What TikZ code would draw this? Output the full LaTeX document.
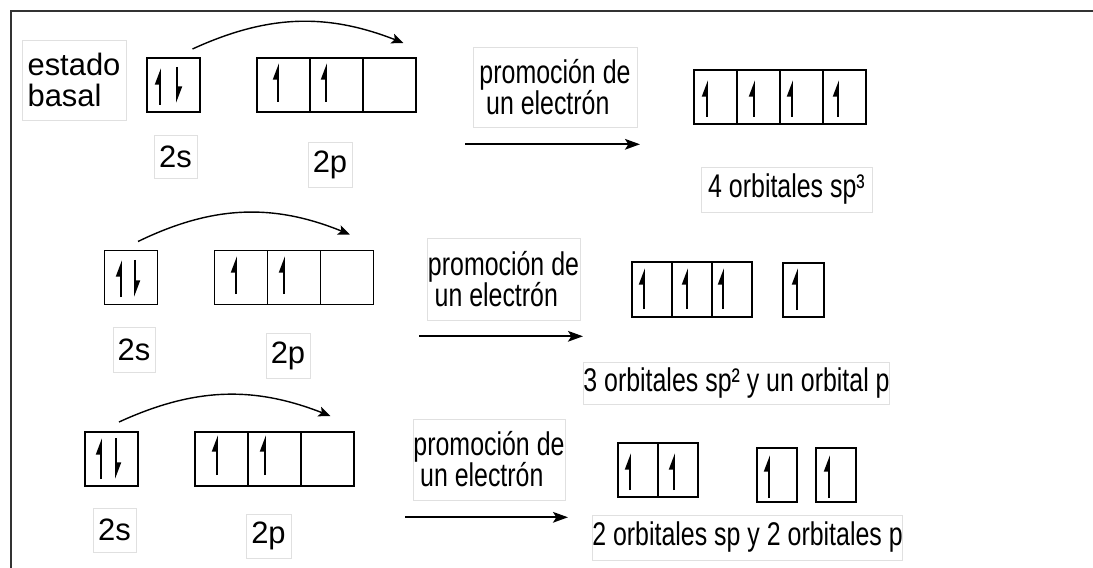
\documentclass[tikz,border=0pt]{standalone}
\usepackage{fontspec}
\setmainfont{Liberation Sans}
\newfontfamily\narrowsf{Liberation Sans}[FakeStretch=0.76]
\usetikzlibrary{arrows.meta, positioning}

\begin{document}
\begin{tikzpicture}[
  x=0.03cm, y=-0.03cm,
  every node/.style={font=\fontsize{26.4}{26.4}\selectfont},
  cell/.style={rectangle, draw, line width=1.5pt, inner sep=0pt, outer sep=0pt,
               minimum width=1.59cm, minimum height=1.62cm},
  lbl/.style ={rectangle, draw=black!12, line width=0.5pt, inner sep=0pt},
  nlbl/.style={lbl, font=\narrowsf\fontsize{28}{26.5}\selectfont},
  spin/.style={-{Stealth[left, length=0.42cm, width=0.3cm, inset=0pt]}, line width=1.6pt},
  jump/.style={-{Stealth[length=0.36cm, width=0.3cm, inset=0.08cm]}, line width=1.2pt},
  arr/.style ={-{Stealth[length=0.45cm, width=0.32cm, inset=0.1cm]}, line width=1.6pt},
]
\useasboundingbox (0,0) rectangle (1093,568);
\draw[line width=1.8pt, black!80] (11,568) -- (11,11) -- (1093,11);

% estado basal -> sp3
\node[lbl, minimum width=3.12cm, minimum height=2.4cm, align=left] (basal) at (74,80) {estado\\basal};
\node[cell] (s1) at (173.5,85) {};
\node[cell] (p1a) at (283.5,85) {};
\node[cell, right=0pt of p1a] (p1b) {};
\node[cell, right=0pt of p1b] (p1c) {};
\node[lbl, minimum width=1.29cm, minimum height=1.29cm] (s1lbl) at (175.5,156.5) {2s};
\node[lbl, minimum width=1.32cm, minimum height=1.35cm] (p1lbl) at (330,164.5) {2p};
\node[nlbl, minimum width=4.92cm, minimum height=2.4cm, align=left] (prom1) at (555,87)
     {promoción de\\\hspace*{0.2cm}un electrón};
\node[cell, minimum width=1.29cm] (h1a) at (715.5,97) {};
\node[cell, minimum width=1.29cm, right=0pt of h1a] (h1b) {};
\node[cell, minimum width=1.29cm, right=0pt of h1b] (h1c) {};
\node[cell, minimum width=1.29cm, right=0pt of h1c] (h1d) {};
\node[nlbl, minimum width=5.13cm, minimum height=1.35cm] (h1lbl) at (786.5,189.5) {4 orbitales sp³};

\coordinate (j1s) at ([shift={(19,-9)}]s1.north);
\coordinate (j1e) at ([shift={(14,-15)}]p1c.north);
\draw[jump] (j1s) to[bend left=23] (j1e);
\coordinate (a1s) at ([shift={(-90,17)}]prom1.south);
\coordinate (a1e) at ([shift={(85,17)}]prom1.south);
\draw[arr] (a1s) -- (a1e);

\draw[spin] (160,105) -- (160,68);
\draw[spin] (177,67) -- (177,103);
\draw[spin] (278,102) -- (278,63);
\draw[spin] (326,102) -- (326,63);
\draw[spin] (707,117) -- (707,80);
\draw[spin] (754,117) -- (754,80);
\draw[spin] (792,117) -- (792,80);
\draw[spin] (838,117) -- (838,80);

% sp2
\node[cell] (s2) at (131,277.5) {};
\node[cell] (p2a) at (241,277.5) {};
\node[cell, right=0pt of p2a] (p2b) {};
\node[cell, right=0pt of p2b] (p2c) {};
\node[lbl, minimum width=1.26cm, minimum height=1.35cm] (s2lbl) at (134,349.5) {2s};
\node[lbl, minimum width=1.32cm, minimum height=1.35cm] (p2lbl) at (288,355.5) {2p};
\node[nlbl, minimum width=4.59cm, minimum height=2.46cm, align=left] (prom2) at (503.5,279)
     {promoción de\\\hspace*{0.2cm}un electrón};
\node[cell, minimum width=1.2cm, minimum height=1.65cm] (h2a) at (652,289.5) {};
\node[cell, minimum width=1.2cm, minimum height=1.65cm, right=0pt of h2a] (h2b) {};
\node[cell, minimum width=1.2cm, minimum height=1.65cm, right=0pt of h2b] (h2c) {};
\node[cell, minimum width=1.23cm] (h2p) at (803.5,290) {};
\node[nlbl, minimum width=9.09cm, minimum height=1.26cm] (h2lbl) at (736.5,383) {3 orbitales sp² y un orbital p};

\coordinate (j2s) at ([shift={(7,-9)}]s2.north);
\coordinate (j2e) at ([shift={(3,-16)}]p2c.north);
\draw[jump] (j2s) to[bend left=24] (j2e);
\coordinate (a2s) at ([shift={(-84.5,16)}]prom2.south);
\coordinate (a2e) at ([shift={(79.5,16)}]prom2.south);
\draw[arr] (a2s) -- (a2e);

\draw[spin] (121,297) -- (121,260);
\draw[spin] (135,260) -- (135,297);
\draw[spin] (236,294) -- (236,256);
\draw[spin] (284,294) -- (284,256);
\draw[spin] (644,309) -- (644,268);
\draw[spin] (687,309) -- (687,268);
\draw[spin] (723,309) -- (723,268);
\draw[spin] (797,310) -- (797,268);

% sp
\node[cell] (s3) at (111.5,459) {};
\node[cell] (p3a) at (221.5,459) {};
\node[cell, right=0pt of p3a] (p3b) {};
\node[cell, right=0pt of p3b] (p3c) {};
\node[lbl, minimum width=1.29cm, minimum height=1.32cm] (s3lbl) at (114.5,530) {2s};
\node[lbl, minimum width=1.35cm, minimum height=1.32cm] (p3lbl) at (268.5,536) {2p};
\node[nlbl, minimum width=4.56cm, minimum height=2.43cm, align=left] (prom3) at (489,459.5)
     {promoción de\\\hspace*{0.2cm}un electrón};
\node[cell, minimum width=1.2cm] (h3a) at (638,470) {};
\node[cell, minimum width=1.2cm, right=0pt of h3a] (h3b) {};
\node[cell, minimum width=1.2cm] (h3p) at (777,475) {};
\node[cell, minimum width=1.2cm] (h3q) at (836,475) {};
\node[nlbl, minimum width=9.27cm, minimum height=1.35cm] (h3lbl) at (747.5,537.5) {2 orbitales sp y 2 orbitales p};

\coordinate (j3s) at ([shift={(7.5,-10)}]s3.north);
\coordinate (j3e) at ([shift={(3,-16)}]p3c.north);
\draw[jump] (j3s) to[bend left=23] (j3e);
\coordinate (a3s) at ([shift={(-84,17)}]prom3.south);
\coordinate (a3e) at ([shift={(79,17)}]prom3.south);
\draw[arr] (a3s) -- (a3e);

\draw[spin] (101,479) -- (101,438);
\draw[spin] (116,438) -- (116,479);
\draw[spin] (217,475) -- (217,435);
\draw[spin] (265,475) -- (265,435);
\draw[spin] (630,490) -- (630,453);
\draw[spin] (674,490) -- (674,453);
\draw[spin] (769,498) -- (769,455);
\draw[spin] (829,498) -- (829,455);
\end{tikzpicture}
\end{document}
